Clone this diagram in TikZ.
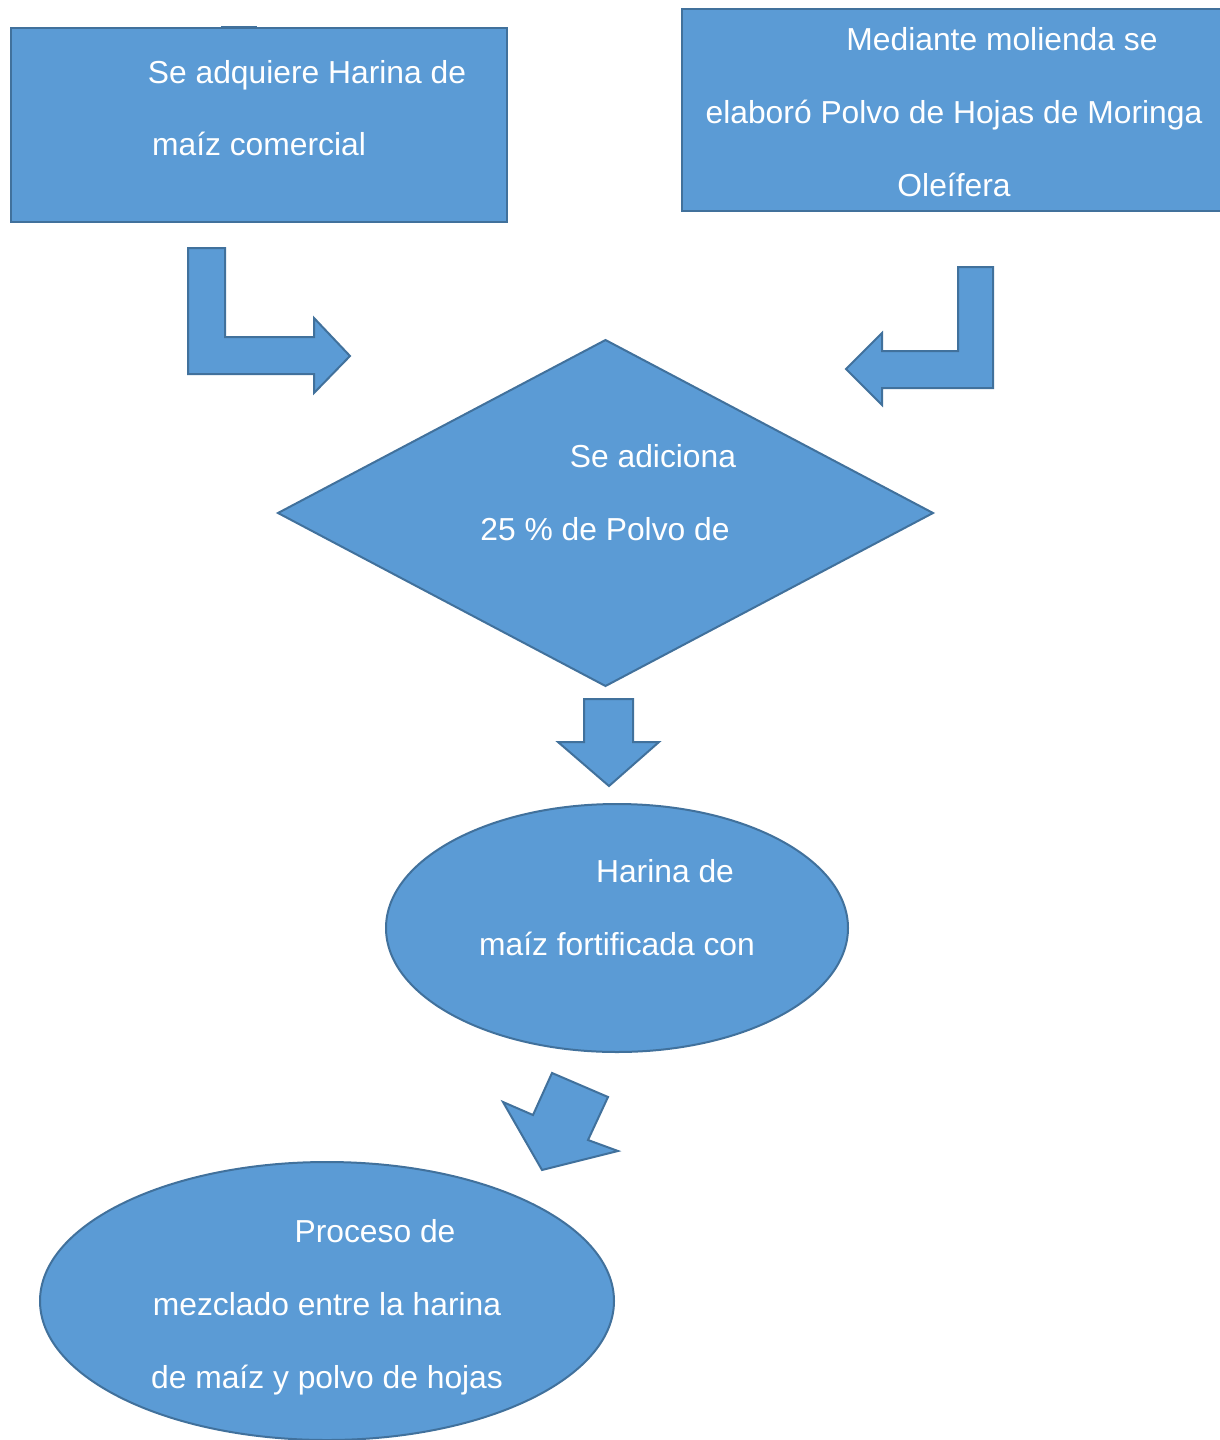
\documentclass[tikz,border=0pt]{standalone}
\usepackage{fontspec}
\setmainfont{Liberation Sans}
\usetikzlibrary{shapes.geometric}
\definecolor{bfill}{HTML}{5B9BD5}
\definecolor{bline}{HTML}{41719C}
\tikzset{
  shp/.style={draw=bline, fill=bfill, line width=1pt, inner sep=0pt, outer sep=0pt},
  blk/.style={draw=bline, fill=bfill, line width=1pt, line join=miter},
  txt/.style={text=white, anchor=base, inner sep=0pt, font=\fontsize{15.9pt}{19pt}\selectfont}
}
\begin{document}
\begin{tikzpicture}[x=0.5pt, y=-0.5pt]
\clip (0,0) rectangle (1220,1440);
\fill[white] (0,0) rectangle (1220,1440);

% top boxes
\draw[bline, line width=1pt] (221,27) -- (257,27);
\node[shp, rectangle, minimum width=248pt, minimum height=97pt] (boxL) at (259,125) {};
\node[shp, rectangle, minimum width=272pt, minimum height=101pt] (boxR) at (954,110) {};

% diamond
\node[shp, diamond, minimum width=327.5pt, minimum height=173pt, shape aspect=1.893] (dia) at (605.5,513) {};

% ellipses
\node[shp, ellipse, minimum width=231pt, minimum height=124pt] (ell1) at (617,928) {};
\node[shp, ellipse, minimum width=287pt, minimum height=139pt] (ell2) at (327,1301) {};

% block arrows
\draw[blk] (188,248) -- (225,248) -- (225,337) -- (314,337) -- (314,318) -- (350,356) -- (314,393) -- (314,374) -- (188,374) -- cycle;
\draw[blk] (993,267) -- (958,267) -- (958,351) -- (882,351) -- (882,333) -- (846,369) -- (882,405) -- (882,388) -- (993,388) -- cycle;
\draw[blk] (584,699) -- (633,699) -- (633,742) -- (659,742) -- (609,786) -- (558,742) -- (584,742) -- cycle;
\draw[blk] (552,1073) -- (608,1097) -- (588,1140) -- (618,1151) -- (542,1170) -- (503,1102) -- (533,1115) -- cycle;

% texts
\node[txt] (tL1) at (307,83) {Se adquiere Harina de};
\node[txt] (tL2) at (259,155) {maíz comercial};

\node[txt] (tR1) at (1002,50) {Mediante molienda se};
\node[txt] (tR2) at (954,123) {elaboró Polvo de Hojas de Moringa};
\node[txt] (tR3) at (954,196) {Oleífera};

\node[txt] (tD1) at (653,467) {Se adiciona};
\node[txt] (tD2) at (605,540) {25 \% de Polvo de};

\node[txt] (tE1) at (665,882) {Harina de};
\node[txt] (tE2) at (617,955) {maíz fortificada con};

\node[txt] (tF1) at (375,1242) {Proceso de};
\node[txt] (tF2) at (327,1315) {mezclado entre la harina};
\node[txt] (tF3) at (327,1388) {de maíz y polvo de hojas};
\end{tikzpicture}
\end{document}
